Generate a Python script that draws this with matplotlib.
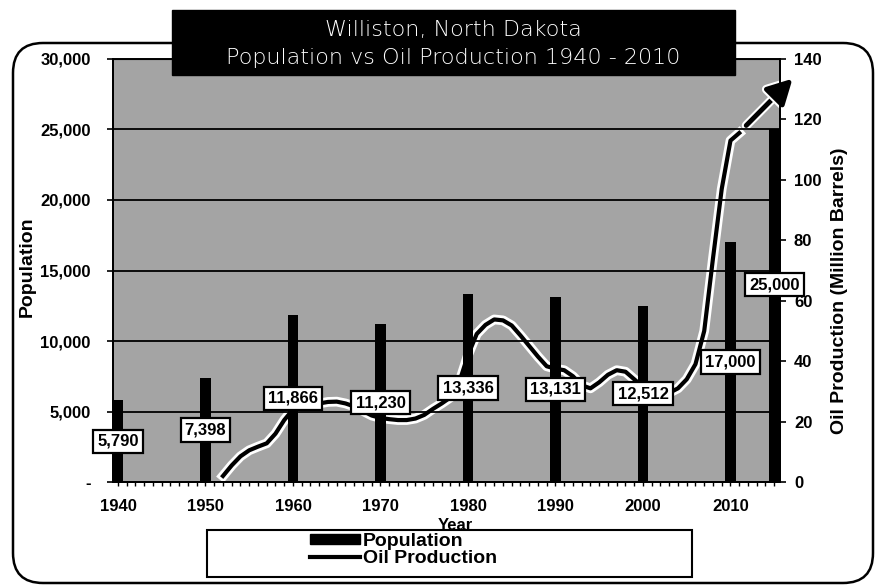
import matplotlib
matplotlib.use("Agg")
import matplotlib.pyplot as plt
import matplotlib.patheffects as pe
from matplotlib.patches import Rectangle, FancyBboxPatch, Patch
from matplotlib.lines import Line2D
from matplotlib.ticker import FixedLocator, FuncFormatter

plt.rcParams['font.family'] = ['Liberation Sans', 'DejaVu Sans']

# ---------------- data ----------------
title_lines = ["Williston, North Dakota", "Population vs Oil Production 1940 - 2010"]
pop_years = [1940, 1950, 1960, 1970, 1980, 1990, 2000, 2010, 2015]
population = [5790, 7398, 11866, 11230, 13336, 13131, 12512, 17000, 25000]

oil_years = list(range(1952, 2012))
oil_production = [
    2, 5.5, 8.5, 10.5, 11.7, 12.8, 16, 20.5, 24, 25.5,        # 1952-1961
    26, 26, 26.5, 26.6, 26, 25, 23.5, 22, 21.2, 20.8,          # 1962-1971
    20.5, 20.5, 21, 22.2, 24.2, 26, 28, 33, 42, 49,            # 1972-1981
    52, 53.8, 53.5, 51.8, 48.5, 45, 41.5, 38.3, 37.5, 37,      # 1982-1991
    35, 32, 31, 33, 35.5, 37, 36.5, 34, 31.5, 30,              # 1992-2001
    29.5, 29.5, 31, 34, 39, 50, 74, 97, 113, 115.5,            # 2002-2011
]
trend_years = [2011.8, 2017.1]
trend_values = [118, 133.5]

xtick_years = [1940, 1950, 1960, 1970, 1980, 1990, 2000, 2010]
pop_ticks = [0, 5000, 10000, 15000, 20000, 25000, 30000]
oil_ticks = [0, 20, 40, 60, 80, 100, 120, 140]

series_labels = ["Population", "Oil Production"]
x_label = "Year"
pop_label = "Population"
oil_label = "Oil Production (Million Barrels)"

# ---------------- figure ----------------
W, H = 875, 587
fig = plt.figure(figsize=(W / 100, H / 100), dpi=100)
fig.patch.set_facecolor("white")

L, R, T, B = 113, 780, 59, 482
ax = fig.add_axes([L / W, 1 - B / H, (R - L) / W, (B - T) / H])
ax2 = ax.twinx()
ax.set_zorder(ax2.get_zorder() + 1)
ax.patch.set_visible(False)
ax2.patch.set_visible(True)
ax2.patch.set_facecolor("#a4a4a4")

ax.set_xlim(1939.43, 2015.66)
ax.set_ylim(0, 30000)
ax2.set_ylim(0, 140)

# bars
ax.bar(pop_years, population, width=1.2, color="black", zorder=3)
ax.set_axisbelow(True)
ax.yaxis.grid(True, color="black", linewidth=1.3)

# value labels
for i, (x, v) in enumerate(zip(pop_years, population)):
    y = v / 2 if i < len(population) - 1 else v * 0.56
    ax.text(x, y, f"{v:,}", ha="center", va="center", fontsize=12,
            fontweight="bold", zorder=6,
            bbox=dict(boxstyle="square,pad=0.25", fc="white", ec="black", lw=1.6))

# oil line with white halo
halo = [pe.Stroke(linewidth=7, foreground="white"), pe.Normal()]
ax2.plot(oil_years, oil_production, color="black", lw=3, zorder=3,
         solid_joinstyle="round", path_effects=halo)
ann = ax2.annotate("", xy=(trend_years[1], trend_values[1]),
                   xytext=(trend_years[0], trend_values[0]),
                   arrowprops=dict(arrowstyle="-|>,head_length=0.75,head_width=0.4",
                                   mutation_scale=20, lw=3.5, color="black",
                                   shrinkA=0, shrinkB=0),
                   annotation_clip=False)
ann.arrow_patch.set_clip_on(False)
ann.arrow_patch.set_path_effects([pe.Stroke(linewidth=6.5, foreground="white"), pe.Normal()])

# ticks
ax.xaxis.set_major_locator(FixedLocator(xtick_years))
ax.xaxis.set_minor_locator(FixedLocator(list(range(1940, 2016))))
ax.tick_params(axis="x", which="both", direction="out", length=3, width=1, pad=9,
               labelsize=12)
ax.set_yticks(pop_ticks)
ax.yaxis.set_major_formatter(FuncFormatter(lambda v, p: "-" if v == 0 else f"{int(v):,}"))
ax.tick_params(axis="y", direction="out", length=4, width=1.2, pad=12, labelsize=12)
ax2.set_yticks(oil_ticks)
ax2.tick_params(axis="y", direction="out", length=4, width=1.2, pad=6, labelsize=12)
for lab in ax.get_xticklabels() + ax.get_yticklabels() + ax2.get_yticklabels():
    lab.set_fontweight("bold")

for a in (ax, ax2):
    for s in a.spines.values():
        s.set_linewidth(1.4)
        s.set_color("black")
ax.spines["top"].set_linewidth(0.8)

# axis labels
ax.set_xlabel(x_label, fontsize=12, fontweight="bold")
ax.xaxis.set_label_coords((455 - L) / (R - L), -0.084)
ax.set_ylabel(pop_label, fontsize=14, fontweight="bold")
ax.yaxis.set_label_coords((36 - L) / (R - L), (B - 267) / (B - T))
ax2.set_ylabel(oil_label, fontsize=14, fontweight="bold")
ax2.yaxis.set_label_coords((831 - L) / (R - L), (B - 291) / (B - T))

# outer rounded frame
frame = FancyBboxPatch((0.13, 0.04), 8.60, 5.40,
                       boxstyle="round,pad=0,rounding_size=0.3",
                       transform=fig.dpi_scale_trans, fc="none", ec="black",
                       lw=1.8, zorder=0.5)
fig.add_artist(frame)

# title box
tbox = Rectangle((1.72, (H - 75) / 100), 5.63, 0.65, transform=fig.dpi_scale_trans,
                 fc="black", ec="black", zorder=10)
fig.add_artist(tbox)
fig.text(453 / W, 1 - 30 / H, title_lines[0], color="white", fontsize=16,
         family="DejaVu Sans", fontweight="light", ha="center", va="center", zorder=11)
fig.text(453 / W, 1 - 58 / H, title_lines[1], color="white", fontsize=16,
         family="DejaVu Sans", fontweight="light", ha="center", va="center", zorder=11)

# legend
lbox = Rectangle((2.07, (H - 577) / 100), 4.85, 0.47, transform=fig.dpi_scale_trans,
                 fc="white", ec="black", lw=1.5, zorder=0.6)
fig.add_artist(lbox)
handles = [Patch(facecolor="black", edgecolor="black"),
           Line2D([0], [0], color="black", lw=3)]
leg = fig.legend(handles, series_labels, loc="upper left",
                 bbox_to_anchor=(310 / W, 1 - 533 / H), frameon=False,
                 borderpad=0, borderaxespad=0, handlelength=2.57, handleheight=0.45,
                 handletextpad=0.15, labelspacing=0.0,
                 prop=dict(family="Liberation Sans", weight="bold", size=14))
leg.set_zorder(5)

fig.savefig("out.png", dpi=100)
